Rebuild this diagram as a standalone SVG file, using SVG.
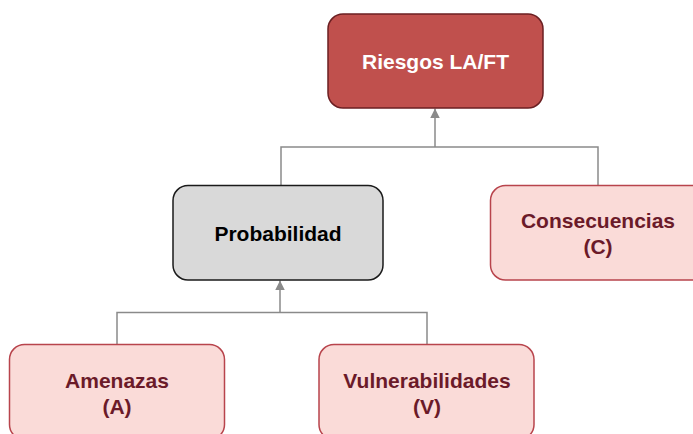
<svg xmlns="http://www.w3.org/2000/svg" width="693" height="434" viewBox="0 0 693 434">
<style>
text{font-family:"Liberation Sans",Arial,sans-serif;font-weight:bold;font-size:21px;text-anchor:middle}
.pink rect{fill:#fadbd8;stroke:#b8444c;stroke-width:1.5}
.pink text{fill:#6b1a29}
.conn{fill:none;stroke:#8a8a8a;stroke-width:1.5}
</style>
<defs>
<marker id="arr" viewBox="0 0 10 10" refX="10" refY="5" markerWidth="6.5" markerHeight="6.5" orient="auto" markerUnits="strokeWidth">
<path d="M0,0 L10,5 L0,10 z" fill="#8a8a8a"/>
</marker>
</defs>
<rect width="693" height="434" fill="#ffffff"/>
<g id="connectors">
<path class="conn" d="M281,185 V147 H598 V185" />
<path class="conn" d="M435,147 V108.5" marker-end="url(#arr)"/>
<path class="conn" d="M117,345 V312.5 H427 V345" />
<path class="conn" d="M280,312.5 V280.5" marker-end="url(#arr)"/>
</g>
<g id="node-riesgos">
<rect x="328" y="14" width="215" height="94" rx="15" fill="#c0504d" stroke="#6b1f22" stroke-width="1.5"/>
<text x="435.5" y="69" fill="#ffffff">Riesgos LA/FT</text>
</g>
<g id="node-probabilidad">
<rect x="173" y="185.5" width="210" height="94.5" rx="15" fill="#d9d9d9" stroke="#1a1a1a" stroke-width="1.5"/>
<text x="278" y="241" fill="#000000">Probabilidad</text>
</g>
<g id="node-consecuencias" class="pink">
<rect x="490.5" y="185.5" width="216" height="94.5" rx="15"/>
<text x="598" y="228">Consecuencias</text>
<text x="598" y="254">(C)</text>
</g>
<g id="node-amenazas" class="pink">
<rect x="9.5" y="344.5" width="215" height="95" rx="15"/>
<text x="117" y="387.5">Amenazas</text>
<text x="117" y="413.5">(A)</text>
</g>
<g id="node-vulnerabilidades" class="pink">
<rect x="319" y="344.5" width="215" height="95" rx="15"/>
<text x="427" y="387.5">Vulnerabilidades</text>
<text x="427" y="413.5">(V)</text>
</g>
</svg>
